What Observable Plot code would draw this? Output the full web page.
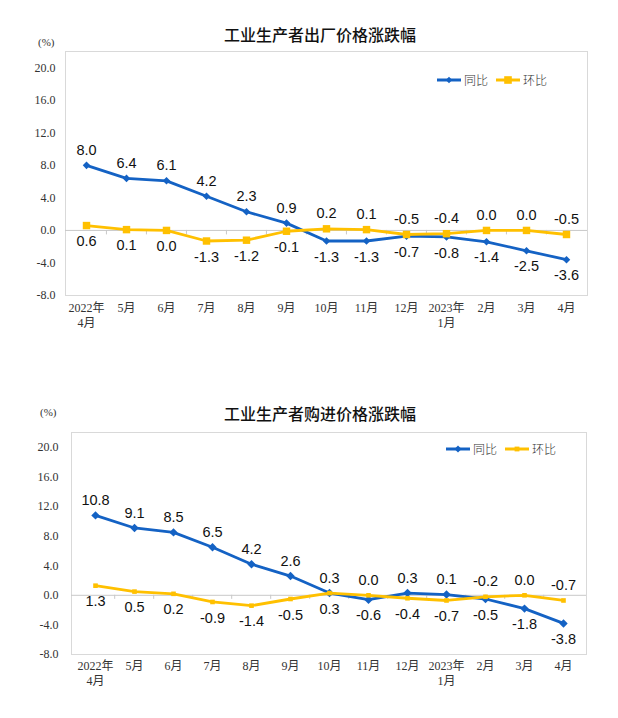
<!DOCTYPE html>
<html>
<head>
<meta charset="utf-8">
<script src="https://cdn.jsdelivr.net/npm/d3@7"></script>
<script src="https://cdn.jsdelivr.net/npm/@observablehq/plot@0.6"></script>
<style>
  body { margin: 0; background: #fff; }
  #root { position: relative; width: 618px; height: 718px; overflow: hidden; background: #fff; }
  .title { position: absolute; left: 0; width: 640px; text-align: center; font-family: "Noto Sans CJK SC", sans-serif; font-size: 16px; font-weight: 500; color: #111; }
  .unit { position: absolute; font-family: "Liberation Serif", serif; font-size: 11px; color: #333; }
  .legend { position: absolute; display: flex; align-items: center; font-family: "Noto Sans CJK SC", sans-serif; font-size: 12px; color: #333; font-weight: 300; }
  .legend svg { display: block; }
  .chart { position: absolute; left: 0; }
</style>
</head>
<body>
<div id="root"></div>
<script>
// ---- data ----
const months = ["2022年\n4月", "5月", "6月", "7月", "8月", "9月", "10月", "11月", "12月", "2023年\n1月", "2月", "3月", "4月"];
const seriesNames = ["同比", "环比"];
const yTicks = [-8, -4, 0, 4, 8, 12, 16, 20];
// 工业生产者出厂价格
const ppiYoY = [8.0, 6.4, 6.1, 4.2, 2.3, 0.9, -1.3, -1.3, -0.7, -0.8, -1.4, -2.5, -3.6];
const ppiMoM = [0.6, 0.1, 0.0, -1.3, -1.2, -0.1, 0.2, 0.1, -0.5, -0.4, 0.0, 0.0, -0.5];
// 工业生产者购进价格
const pirmYoY = [10.8, 9.1, 8.5, 6.5, 4.2, 2.6, 0.3, -0.6, 0.3, 0.1, -0.5, -1.8, -3.8];
const pirmMoM = [1.3, 0.5, 0.2, -0.9, -1.4, -0.5, 0.3, 0.0, -0.4, -0.7, -0.2, 0.0, -0.7];
const titles = ["工业生产者出厂价格涨跌幅", "工业生产者购进价格涨跌幅"];

const BLUE = "#1462c4";
const YELLOW = "#ffc000";
const W = 618;
const root = document.getElementById("root");

function addDiv(cls, html, style) {
  const d = document.createElement("div");
  d.className = cls;
  d.innerHTML = html;
  Object.assign(d.style, style);
  root.appendChild(d);
  return d;
}

function legend(top, left, blueR, yellowR) {
  const html = `
    <svg width="24" height="10"><line x1="0" y1="5" x2="24" y2="5" stroke="${BLUE}" stroke-width="3"/><path d="M12 ${5-blueR} L${12+blueR} 5 L12 ${5+blueR} L${12-blueR} 5Z" fill="${BLUE}"/></svg>
    <span style="margin:0 8px 0 3px">${seriesNames[0]}</span>
    <svg width="24" height="10"><line x1="0" y1="5" x2="24" y2="5" stroke="${YELLOW}" stroke-width="3"/><rect x="${12-yellowR}" y="${5-yellowR}" width="${2*yellowR}" height="${2*yellowR}" fill="${YELLOW}"/></svg>
    <span style="margin-left:3px">${seriesNames[1]}</span>`;
  addDiv("legend", html, {top: top + "px", left: left + "px"});
}

function chart(cfg) {
  const {yoy, mom, top, ml, mr, mt, plotH, mb, tickPad, xPad, diamondR, squareR} = cfg;
  const rows = months.map((m, i) => ({m, yoy: yoy[i], mom: mom[i]}));
  const long = [];
  rows.forEach(r => {
    long.push({m: r.m, s: seriesNames[0], v: r.yoy, above: r.yoy >= r.mom});
    long.push({m: r.m, s: seriesNames[1], v: r.mom, above: r.mom > r.yoy});
  });
  const blue = long.filter(d => d.s === seriesNames[0]);
  const yellow = long.filter(d => d.s === seriesNames[1]);
  const step = (W - ml - mr) / months.length;
  const labelFont = {fontFamily: "Liberation Sans, Arial, sans-serif", fontSize: 14.5, fill: "#111"};
  const p = Plot.plot({
    width: W,
    height: mt + plotH + mb,
    marginLeft: ml,
    marginRight: mr,
    marginTop: mt,
    marginBottom: mb,
    style: {fontFamily: "Liberation Serif, 'Noto Sans CJK SC', serif", fontSize: "12px", color: "#333", background: "transparent"},
    x: {type: "point", domain: months, padding: 0.5, label: null},
    y: {domain: [-8, 22], label: null},
    marks: [
      Plot.frame({stroke: "#d9d9d9"}),
      Plot.ruleY([0], {stroke: "#c8c8c8"}),
      Plot.ruleX(months.slice(1), {x: d => d, y1: 0, y2: -0.55, dx: -step / 2, stroke: "#c8c8c8"}),
      Plot.axisY({ticks: yTicks, tickFormat: d => d.toFixed(1), tickSize: 0, tickPadding: tickPad, fontSize: 12, label: null}),
      Plot.axisX({tickSize: 0, tickPadding: xPad, lineHeight: 1.25, fontSize: 12, label: null}),
      Plot.line(blue, {x: "m", y: "v", stroke: BLUE, strokeWidth: 2.8}),
      Plot.dot(blue, {x: "m", y: "v", symbol: "diamond2", r: diamondR, fill: BLUE, stroke: null}),
      Plot.line(yellow, {x: "m", y: "v", stroke: YELLOW, strokeWidth: 2.8}),
      Plot.dot(yellow, {x: "m", y: "v", symbol: "square", r: squareR, fill: YELLOW, stroke: null}),
      Plot.text(long.filter(d => d.above), {x: "m", y: "v", text: d => d.v.toFixed(1), dy: -15, ...labelFont}),
      Plot.text(long.filter(d => !d.above), {x: "m", y: "v", text: d => d.v.toFixed(1), dy: 16, ...labelFont})
    ]
  });
  p.classList.add("chart");
  p.style.top = top + "px";
  root.appendChild(p);
}

// Chart 1
addDiv("title", titles[0], {top: "22px"});
addDiv("unit", "(%)", {top: "36px", left: "38px"});
chart({yoy: ppiYoY, mom: ppiMoM, top: 40, ml: 65, mr: 31, mt: 11, plotH: 244, mb: 40, tickPad: 10, xPad: 6, diamondR: 3.4, squareR: 4.2});
legend(71, 437, 3.2, 3.8);

// Chart 2
addDiv("title", titles[1], {top: "401px"});
addDiv("unit", "(%)", {top: "406px", left: "40px"});
chart({yoy: pirmYoY, mom: pirmMoM, top: 420, ml: 71, mr: 32, mt: 12, plotH: 222, mb: 40, tickPad: 13, xPad: 5, diamondR: 3.8, squareR: 2.6});
legend(440, 446, 3.5, 2.4);
</script>
</body>
</html>
